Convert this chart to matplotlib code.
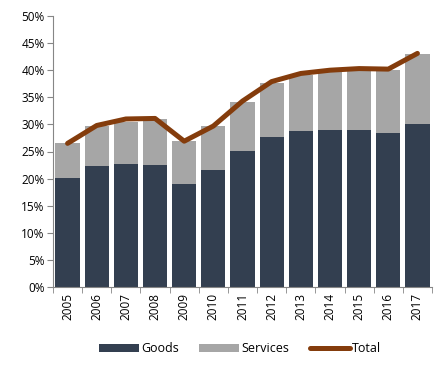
import matplotlib.pyplot as plt
import numpy as np
from matplotlib.ticker import FuncFormatter

years = ["2005", "2006", "2007", "2008", "2009", "2010", "2011",
         "2012", "2013", "2014", "2015", "2016", "2017"]
goods = [20.1, 22.3, 22.7, 22.5, 19.0, 21.6, 25.1, 27.7, 28.8, 29.0, 29.0, 28.4, 30.1]
bar_total = [26.6, 29.7, 30.4, 31.0, 26.9, 29.7, 34.1, 37.6, 39.1, 39.7, 40.1, 40.0, 43.0]
services = [t - g for t, g in zip(bar_total, goods)]
total = [26.5, 29.8, 31.0, 31.1, 26.9, 29.7, 34.3, 37.9, 39.4, 40.0, 40.3, 40.2, 43.1]

GOODS_C = "#333F50"
SERV_C = "#A6A6A6"
TOTAL_C = "#843C0C"

plt.rcParams["font.family"] = ["Open Sans", "DejaVu Sans"]

fig = plt.figure(figsize=(4.46, 3.65), dpi=100)
ax = fig.add_axes([53 / 446, 1 - 287 / 365, (432 - 53) / 446, (287 - 16) / 365])

x = np.arange(len(years))
b1 = ax.bar(x, goods, width=0.83, color=GOODS_C, label="Goods")
b2 = ax.bar(x, services, width=0.83, bottom=goods, color=SERV_C, label="Services")
(ln,) = ax.plot(x, total, color=TOTAL_C, linewidth=3.6, solid_capstyle="round",
                solid_joinstyle="round", label="Total")

ax.set_xlim(-0.5, len(years) - 0.5)
ax.set_ylim(0, 50)
ax.set_yticks(np.arange(0, 51, 5))
ax.yaxis.set_major_formatter(FuncFormatter(lambda v, p: f"{v:.0f}%"))
ax.set_xticks(x)
ax.set_xticklabels(years, rotation=90)
ax.set_xticks(np.arange(-0.5, len(years), 1), minor=True)
ax.tick_params(axis="x", which="major", length=0, pad=4, labelsize=8.5, colors="#000000")
ax.tick_params(axis="x", which="minor", length=4, color="#868686")
ax.tick_params(axis="y", length=4, color="#868686", labelsize=8.5, pad=2)

for s in ["top", "right"]:
    ax.spines[s].set_visible(False)
for s in ["left", "bottom"]:
    ax.spines[s].set_color("#868686")
    ax.spines[s].set_linewidth(0.8)

fig.legend(handles=[b1, b2, ln], loc="center", bbox_to_anchor=(240 / 446, 1 - 349 / 365),
           ncol=3, frameon=False, fontsize=9, handlelength=3.2, handleheight=0.6,
           handletextpad=0.2, columnspacing=1.6)

fig.savefig("out.png", dpi=100)
